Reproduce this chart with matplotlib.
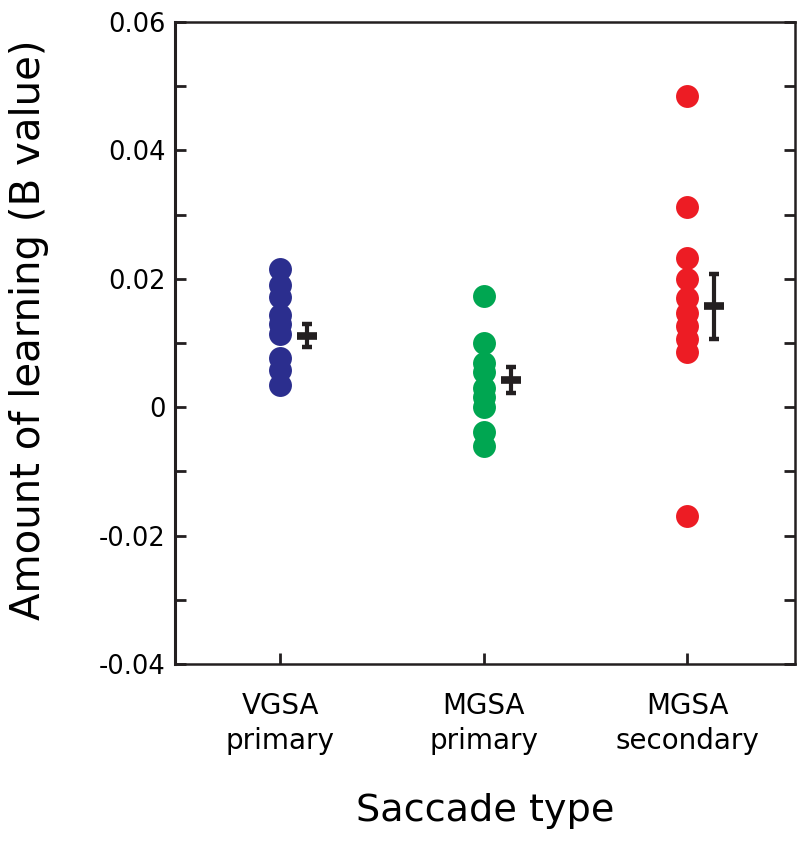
import matplotlib
matplotlib.use("Agg")
import matplotlib.pyplot as plt
import numpy as np

categories = ["VGSA\nprimary", "MGSA\nprimary", "MGSA\nsecondary"]
vgsa_primary = [0.0215, 0.0190, 0.0171, 0.0143, 0.0129, 0.0114, 0.0076, 0.0058, 0.0034]
mgsa_primary = [0.0173, 0.0100, 0.0069, 0.0055, 0.0030, 0.0016, 0.0000, -0.0039, -0.0061]
mgsa_secondary = [0.0484, 0.0312, 0.0232, 0.0199, 0.0170, 0.0146, 0.0126, 0.0106, 0.0086, -0.0170]
means = [0.0111, 0.0042, 0.0157]
sems = [0.0018, 0.0020, 0.0051]
colors = ["#2B2E8E", "#00A651", "#ED1C24"]
ytick_vals = [-0.04, -0.02, 0, 0.02, 0.04, 0.06]
ytick_labels = ["-0.04", "-0.02", "0", "0.02", "0.04", "0.06"]

plt.rcParams['font.family'] = ['DejaVu Sans']

fig = plt.figure(figsize=(8.0, 8.41), dpi=100)
ax = fig.add_axes([0.219, 0.2105, 0.775, 0.7633])

groups = [vgsa_primary, mgsa_primary, mgsa_secondary]
for i, (vals, c) in enumerate(zip(groups, colors)):
    x = np.full(len(vals), i + 1.0)
    ax.plot(x, vals, 'o', color=c, markersize=16.5, markeredgewidth=0, zorder=3)

offset = 0.133
xm = np.arange(1, 4) + offset
ax.errorbar(xm, means, yerr=sems, fmt='none', ecolor='#231F20', elinewidth=3,
            capsize=3.8, capthick=3.2, zorder=4)
ax.plot(xm, means, '_', color='#231F20', markersize=15, markeredgewidth=5.5, zorder=5)

ax.set_xlim(0.485, 3.53)
ax.set_ylim(-0.04, 0.06)
ax.set_xticks([1, 2, 3])
ax.set_xticklabels(categories, fontsize=20, linespacing=1.35)
ax.set_yticks(ytick_vals)
ax.set_yticklabels(ytick_labels, fontsize=18.5)
ax.set_yticks(np.arange(-0.03, 0.06, 0.02), minor=True)

ax.tick_params(axis='y', which='both', direction='in', length=8, width=2,
               left=True, right=True, pad=7, color='#231F20')
ax.tick_params(axis='x', which='both', direction='in', length=8, width=2,
               bottom=True, top=False, pad=20, color='#231F20')
for s in ax.spines.values():
    s.set_linewidth(1.8)
    s.set_color('#231F20')
ax.spines['left'].set_linewidth(2.2)

ax.set_ylabel("Amount of learning (B value)", fontsize=29)
ax.yaxis.set_label_coords(-0.204, 0.52)
ax.set_xlabel("Saccade type", fontsize=27.5, labelpad=27)

fig.savefig("out.png", dpi=100)
